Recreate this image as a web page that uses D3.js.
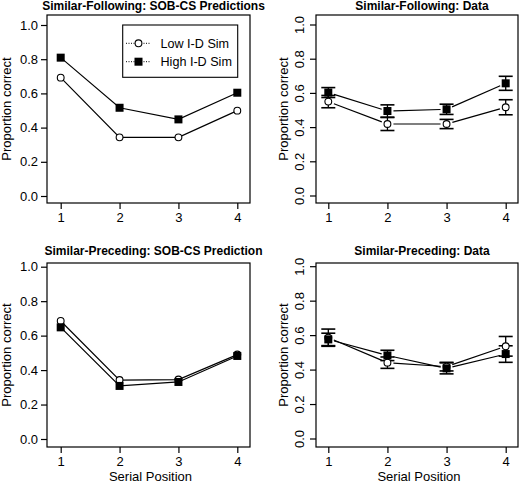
<!DOCTYPE html>
<html>
<head>
<meta charset="utf-8">
<script src="https://cdn.jsdelivr.net/npm/d3@7"></script>
<style>
  html, body { margin: 0; padding: 0; background: #fff; }
  svg { display: block; font-family: "Liberation Sans", Arial, Helvetica, sans-serif; }
</style>
</head>
<body>
<svg id="chart" width="519" height="483"></svg>
<script>
// ---------------- data ----------------
const serialPositions = [1, 2, 3, 4];
const yTicks = [0, 0.2, 0.4, 0.6, 0.8, 1.0];
const seriesNames = ["Low I-D Sim", "High I-D Sim"];

const panelTitles = [
  "Similar-Following: SOB-CS Predictions",
  "Similar-Following: Data",
  "Similar-Preceding: SOB-CS Prediction",
  "Similar-Preceding: Data"
];

// Similar-Following predictions
const sfPredLow  = [0.692, 0.343, 0.343, 0.499];
const sfPredHigh = [0.809, 0.516, 0.448, 0.604];
// Similar-Following data (mean, error half-width)
const sfDataLow     = [0.552, 0.421, 0.421, 0.519];
const sfDataLowErr  = [0.036, 0.038, 0.027, 0.044];
const sfDataHigh    = [0.605, 0.497, 0.507, 0.659];
const sfDataHighErr = [0.029, 0.036, 0.030, 0.041];
// Similar-Preceding predictions
const spPredLow  = [0.685, 0.342, 0.345, 0.490];
const spPredHigh = [0.648, 0.308, 0.331, 0.482];
// Similar-Preceding data
const spDataLow     = [0.588, 0.443, 0.420, 0.538];
const spDataLowErr  = [0.050, 0.033, 0.025, 0.057];
const spDataHigh    = [0.578, 0.485, 0.410, 0.493];
const spDataHighErr = [0.036, 0.030, 0.032, 0.048];

// ---------------- layout ----------------
const svg = d3.select("#chart");
const FONT = 13;

const panels = [
  { title: panelTitles[0], low: sfPredLow, high: sfPredHigh, lowErr: null, highErr: null,
    box: {x0: 47, x1: 250, y0: 15, y1: 203}, xr: [60.7, 237.3], yr: [196, 25], titleY: 9.5,
    leftLabels: true, xlab: false, legend: true, type: "o" },
  { title: panelTitles[1], low: sfDataLow, high: sfDataHigh, lowErr: sfDataLowErr, highErr: sfDataHighErr,
    box: {x0: 316, x1: 518, y0: 15, y1: 203}, xr: [328.3, 505.7], yr: [196, 25], titleY: 9.5,
    leftLabels: false, xlab: false, legend: false, type: "b" },
  { title: panelTitles[2], low: spPredLow, high: spPredHigh, lowErr: null, highErr: null,
    box: {x0: 47, x1: 250, y0: 263, y1: 447}, xr: [60.7, 237.3], yr: [439, 266.7], titleY: 254.5,
    leftLabels: true, xlab: true, legend: false, type: "o" },
  { title: panelTitles[3], low: spDataLow, high: spDataHigh, lowErr: spDataLowErr, highErr: spDataHighErr,
    box: {x0: 316, x1: 518, y0: 263, y1: 447}, xr: [328.3, 505.7], yr: [439, 266.7], titleY: 254.5,
    leftLabels: false, xlab: true, legend: false, type: "b" }
];

function drawMarker(g, kind, cx, cy) {
  if (kind === "low") {
    g.append("circle").attr("cx", cx).attr("cy", cy).attr("r", 3.4)
      .attr("fill", "#fff").attr("stroke", "#000").attr("stroke-width", 1.1);
  } else {
    const s = 8;
    g.append("rect").attr("x", cx - s / 2).attr("y", cy - s / 2)
      .attr("width", s).attr("height", s).attr("fill", "#000");
  }
}

panels.forEach(p => {
  const g = svg.append("g");
  const x = d3.scaleLinear().domain([1, 4]).range(p.xr);
  const y = d3.scaleLinear().domain([0, 1]).range(p.yr);
  const b = p.box;
  const cxm = (b.x0 + b.x1) / 2;

  // title
  g.append("text").attr("x", cxm + 5).attr("y", p.titleY)
    .attr("text-anchor", "middle").attr("font-weight", "bold").attr("font-size", 12)
    .text(p.title);

  // box
  g.append("rect").attr("x", b.x0).attr("y", b.y0)
    .attr("width", b.x1 - b.x0).attr("height", b.y1 - b.y0)
    .attr("fill", "none").attr("stroke", "#000").attr("stroke-width", 1.2);

  // x axis
  const xAxis = d3.axisBottom(x).tickValues(serialPositions).tickFormat(d3.format("d"))
    .tickSizeOuter(0).tickSizeInner(6).tickPadding(4);
  const gx = g.append("g").attr("transform", `translate(0,${b.y1})`).call(xAxis);
  gx.select(".domain").remove();
  gx.selectAll("line").attr("stroke-width", 1.2);
  gx.selectAll("text").attr("font-size", FONT).attr("font-family", null).attr("fill", "#000");

  // y axis
  const yAxis = d3.axisLeft(y).tickValues(yTicks).tickFormat(d3.format(".1f"))
    .tickSizeOuter(0).tickSizeInner(6).tickPadding(3);
  const gy = g.append("g").attr("transform", `translate(${b.x0},0)`).call(yAxis);
  gy.select(".domain").remove();
  gy.selectAll("line").attr("stroke-width", 1.2);
  gy.selectAll("text").attr("font-size", FONT).attr("font-family", null).attr("fill", "#000");
  if (!p.leftLabels) {
    gy.selectAll("text")
      .attr("x", null).attr("dy", null)
      .attr("text-anchor", "middle")
      .attr("transform", d => `translate(${-12},${y(d)}) rotate(-90)`)
      .attr("y", 0);
    gy.selectAll(".tick").attr("transform", null);
    gy.selectAll(".tick line").attr("y1", d => y(d)).attr("y2", d => y(d));
  }

  // y label
  const ylx = p.leftLabels ? b.x0 - 36 : b.x0 - 28;
  g.append("text")
    .attr("transform", `translate(${ylx},${(b.y0 + b.y1) / 2}) rotate(-90)`)
    .attr("text-anchor", "middle").attr("font-size", FONT).text("Proportion correct");

  // x label
  if (p.xlab) {
    g.append("text").attr("x", cxm + 2).attr("y", 481)
      .attr("text-anchor", "middle").attr("font-size", FONT).text("Serial Position");
  }

  const series = [
    { kind: "low", vals: p.low, err: p.lowErr },
    { kind: "high", vals: p.high, err: p.highErr }
  ];

  // error bars
  series.forEach(s => {
    if (!s.err) return;
    serialPositions.forEach((sp, i) => {
      const cx = x(sp), lo = y(s.vals[i] - s.err[i]), hi = y(s.vals[i] + s.err[i]);
      g.append("line").attr("x1", cx).attr("x2", cx).attr("y1", lo).attr("y2", hi)
        .attr("stroke", "#000").attr("stroke-width", 1.3);
      [lo, hi].forEach(yy => {
        g.append("line").attr("x1", cx - 7).attr("x2", cx + 7).attr("y1", yy).attr("y2", yy)
          .attr("stroke", "#000").attr("stroke-width", 1.6);
      });
    });
  });

  // lines
  series.forEach(s => {
    const pts = serialPositions.map((sp, i) => [x(sp), y(s.vals[i])]);
    if (p.type === "o") {
      g.append("path").attr("d", d3.line()(pts))
        .attr("fill", "none").attr("stroke", "#000").attr("stroke-width", 1.2);
    } else {
      const gap = 6;
      for (let i = 0; i < pts.length - 1; i++) {
        const [xa, ya] = pts[i], [xb, yb] = pts[i + 1];
        const len = Math.hypot(xb - xa, yb - ya);
        const ux = (xb - xa) / len, uy = (yb - ya) / len;
        g.append("line")
          .attr("x1", xa + ux * gap).attr("y1", ya + uy * gap)
          .attr("x2", xb - ux * gap).attr("y2", yb - uy * gap)
          .attr("stroke", "#000").attr("stroke-width", 1.2);
      }
    }
  });

  // markers
  series.forEach(s => {
    serialPositions.forEach((sp, i) => drawMarker(g, s.kind, x(sp), y(s.vals[i])));
  });

  // legend
  if (p.legend) {
    const lg = g.append("g");
    lg.append("rect").attr("x", 122.7).attr("y", 25).attr("width", 115).attr("height", 52.3)
      .attr("fill", "#fff").attr("stroke", "#000").attr("stroke-width", 1.1);
    seriesNames.forEach((name, i) => {
      const ly = 43.3 + i * 18.4;
      lg.append("line").attr("x1", 126).attr("x2", 151).attr("y1", ly).attr("y2", ly)
        .attr("stroke", "#000").attr("stroke-width", 1).attr("stroke-dasharray", "1,1.5");
      drawMarker(lg, i === 0 ? "low" : "high", 138.5, ly);
      lg.append("text").attr("x", 160.5).attr("y", ly + 4.5)
        .attr("font-size", 12.6).text(name);
    });
  }
});
</script>
</body>
</html>
